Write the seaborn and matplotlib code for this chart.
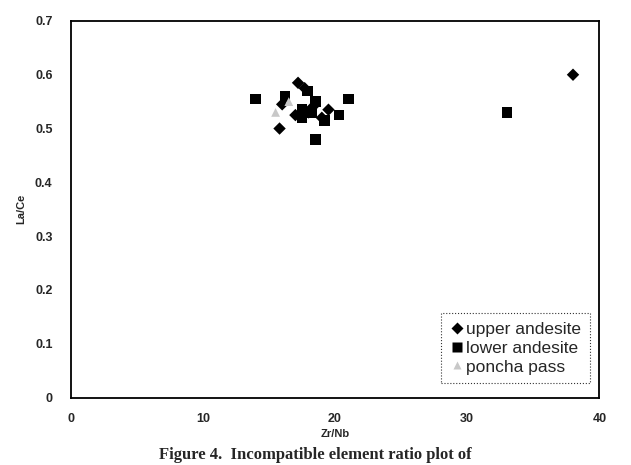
import pandas as pd
import numpy as np
import seaborn as sns
import matplotlib.pyplot as plt

# ---------------- Data ----------------
upper_zrnb = [17.2, 17.7, 16.0, 15.8, 17.0, 18.3, 19.5, 18.0, 19.0, 38.0]
upper_lace = [0.585, 0.575, 0.545, 0.500, 0.525, 0.540, 0.535, 0.530, 0.520, 0.600]

lower_zrnb = [14.0, 16.2, 17.9, 21.0, 17.5, 18.5, 20.3, 19.2, 17.5, 18.5, 33.0, 18.2]
lower_lace = [0.555, 0.560, 0.570, 0.555, 0.535, 0.550, 0.525, 0.515, 0.520, 0.480, 0.530, 0.530]

poncha_zrnb = [15.5, 16.5]
poncha_lace = [0.530, 0.550]

groups = ['upper andesite', 'lower andesite', 'poncha pass']

df = pd.DataFrame({
    'Zr/Nb': upper_zrnb + lower_zrnb + poncha_zrnb,
    'La/Ce': upper_lace + lower_lace + poncha_lace,
    'group': [groups[0]] * len(upper_zrnb) + [groups[1]] * len(lower_zrnb)
             + [groups[2]] * len(poncha_zrnb),
})

# ---------------- Plot ----------------
sns.set_style('white')
plt.rcParams['font.family'] = ['Liberation Sans', 'DejaVu Sans']

fig = plt.figure(figsize=(6.31, 4.65), dpi=100)
ax = fig.add_axes([0.112, 0.145, 0.838, 0.81])

sns.scatterplot(data=df, x='Zr/Nb', y='La/Ce', hue='group', style='group', size='group',
                hue_order=groups, style_order=groups, size_order=groups,
                palette={groups[0]: 'black', groups[1]: 'black', groups[2]: '#c8c8c8'},
                markers={groups[0]: 'D', groups[1]: 's', groups[2]: '^'},
                sizes={groups[0]: 40, groups[1]: 58, groups[2]: 40},
                edgecolor='none', ax=ax)

ax.set_xlim(0, 40)
ax.set_ylim(0, 0.7)
ax.set_xticks([0, 10, 20, 30, 40])
ax.set_yticks([0, 0.1, 0.2, 0.3, 0.4, 0.5, 0.6, 0.7])
ax.set_yticklabels(['0', '0.1', '0.2', '0.3', '0.4', '0.5', '0.6', '0.7'])
ax.tick_params(axis='y', labelsize=9, length=3, direction='out', pad=10)
ax.tick_params(axis='x', labelsize=9, length=0, pad=11)
for lab in ax.get_xticklabels() + ax.get_yticklabels():
    lab.set_fontweight('bold')

for sp in ax.spines.values():
    sp.set_color('black')
    sp.set_linewidth(1.3)

ax.set_xlabel('Zr/Nb', fontsize=8, fontweight='bold', labelpad=3)
ax.set_ylabel('La/Ce', fontsize=8, fontweight='bold', labelpad=6)

leg = ax.legend(loc='lower right', frameon=True, fontsize=12.5, handletextpad=0.05,
                borderpad=0.5, labelspacing=0.2, handlelength=0.9,
                bbox_to_anchor=(0.998, 0.015), fancybox=False)
leg.get_frame().set_edgecolor('black')
leg.get_frame().set_linewidth(0.8)
leg.get_frame().set_linestyle(':')

fig.text(0.5, 0.004, 'Figure 4.  Incompatible element ratio plot of', ha='center',
         va='bottom', fontsize=12, fontweight='bold', family='Liberation Serif')

fig.savefig('out.png', dpi=100)
